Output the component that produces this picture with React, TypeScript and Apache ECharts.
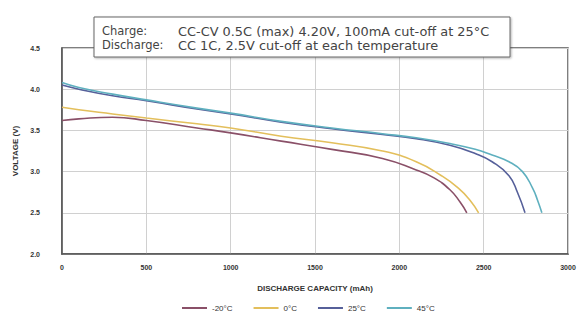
import React, { useEffect, useRef } from "react";
import * as echarts from "echarts";

const seriesNames = ["-20°C", "0°C", "25°C", "45°C"];
const seriesColors = ["#8a5068", "#e3bf5c", "#56609a", "#5fb0bf"];

const capM20 = [0, 100, 300, 500, 800, 1000, 1300, 1600, 1900, 2100, 2200, 2300, 2360, 2400];
const voltM20 = [3.62, 3.64, 3.66, 3.62, 3.53, 3.47, 3.37, 3.27, 3.16, 3.02, 2.93, 2.78, 2.63, 2.5];

const cap0 = [0, 100, 300, 500, 800, 1000, 1300, 1600, 1900, 2100, 2250, 2350, 2420, 2470];
const volt0 = [3.78, 3.75, 3.7, 3.65, 3.58, 3.53, 3.43, 3.35, 3.25, 3.12, 2.95, 2.8, 2.65, 2.5];

const cap25 = [0, 100, 300, 500, 800, 1000, 1300, 1600, 1900, 2100, 2300, 2450, 2550, 2650, 2700, 2745];
const volt25 = [4.05, 4.0, 3.92, 3.86, 3.76, 3.7, 3.6, 3.52, 3.45, 3.4, 3.32, 3.22, 3.12, 2.95, 2.75, 2.5];

const cap45 = [0, 100, 300, 500, 800, 1000, 1300, 1600, 1900, 2100, 2300, 2450, 2550, 2650, 2730, 2790, 2820, 2845];
const volt45 = [4.08, 4.02, 3.94, 3.87, 3.77, 3.71, 3.61, 3.53, 3.46, 3.41, 3.34, 3.27, 3.2, 3.12, 3.0, 2.8, 2.65, 2.5];

const yTicks = [2.0, 2.5, 3.0, 3.5, 4.0, 4.5];
const xTicks = [0, 500, 1000, 1500, 2000, 2500, 3000];

const chargeLabel = "Charge:";
const chargeText = "CC-CV 0.5C (max) 4.20V, 100mA cut-off at 25°C";
const dischargeLabel = "Discharge:";
const dischargeText = "CC 1C, 2.5V cut-off at each temperature";

const pairs = (c: number[], v: number[]) => c.map((x, i) => [x, v[i]]);

export default function App() {
  const ref = useRef<HTMLDivElement>(null);
  useEffect(() => {
    if (!ref.current) return;
    const chart = echarts.init(ref.current, null, { renderer: "svg" });
    const data = [pairs(capM20, voltM20), pairs(cap0, volt0), pairs(cap25, volt25), pairs(cap45, volt45)];
    const font = "'Liberation Sans', Arial, sans-serif";
    const boxFont = "'DejaVu Sans', sans-serif";
    const boxText = (x: number, y: number, text: string, size: number) => ({
      type: "text",
      x,
      y,
      style: { text, fontSize: size, fill: "#444", fontFamily: boxFont, verticalAlign: "middle" },
      z: 101,
    });
    chart.setOption({
      animation: false,
      backgroundColor: "#ffffff",
      textStyle: { fontFamily: font },
      grid: {
        left: 62,
        right: 12,
        top: 48,
        bottom: 71,
        show: true,
        borderColor: "#555",
        borderWidth: 1.5,
        backgroundColor: "transparent",
      },
      legend: {
        data: seriesNames,
        bottom: 8,
        left: 176,
        itemWidth: 25,
        itemHeight: 2,
        itemGap: 20,
        textStyle: { fontSize: 8, color: "#333", fontFamily: font },
      },
      xAxis: {
        type: "value",
        min: xTicks[0],
        max: xTicks[xTicks.length - 1],
        interval: 500,
        name: "DISCHARGE CAPACITY (mAh)",
        nameLocation: "middle",
        nameGap: 30,
        nameTextStyle: { fontSize: 8, color: "#333", fontWeight: "bold" },
        axisLine: { lineStyle: { color: "#555", width: 1.5 } },
        axisTick: { show: false },
        axisLabel: { fontSize: 7, color: "#333", fontWeight: "bold", margin: 10, formatter: (v: number) => String(v) },
        splitLine: { lineStyle: { color: "#d0d0d0", width: 1 } },
      },
      yAxis: {
        type: "value",
        min: yTicks[0],
        max: yTicks[yTicks.length - 1],
        interval: 0.5,
        name: "VOLTAGE (V)",
        nameLocation: "middle",
        nameGap: 40,
        nameTextStyle: { fontSize: 8, color: "#333", fontWeight: "bold" },
        axisLine: { show: true, lineStyle: { color: "#555", width: 1.5 } },
        axisTick: { show: false },
        axisLabel: {
          fontSize: 7,
          color: "#333",
          fontWeight: "bold",
          margin: 22,
          formatter: (v: number) => v.toFixed(1),
        },
        splitLine: { lineStyle: { color: "#d0d0d0", width: 1 } },
      },
      series: data.map((d, i) => ({
        name: seriesNames[i],
        type: "line",
        data: d,
        smooth: true,
        symbol: "none",
        lineStyle: { color: seriesColors[i], width: 1.6 },
        itemStyle: { color: seriesColors[i] },
      })),
      graphic: [
        {
          type: "rect",
          shape: { x: 94, y: 17, width: 416, height: 40 },
          style: { fill: "#ffffff", stroke: "#666", lineWidth: 1, shadowBlur: 2, shadowColor: "rgba(0,0,0,0.3)", shadowOffsetX: 1, shadowOffsetY: 1 },
          z: 100,
        },
        boxText(102, 31, chargeLabel, 11.5),
        boxText(178, 31, chargeText, 12.9),
        boxText(102, 45, dischargeLabel, 11.5),
        boxText(178, 45, dischargeText, 12.9),
      ],
    });
    return () => chart.dispose();
  }, []);
  return <div ref={ref} style={{ width: 580, height: 325, position: "absolute", left: 0, top: 0 }} />;
}
